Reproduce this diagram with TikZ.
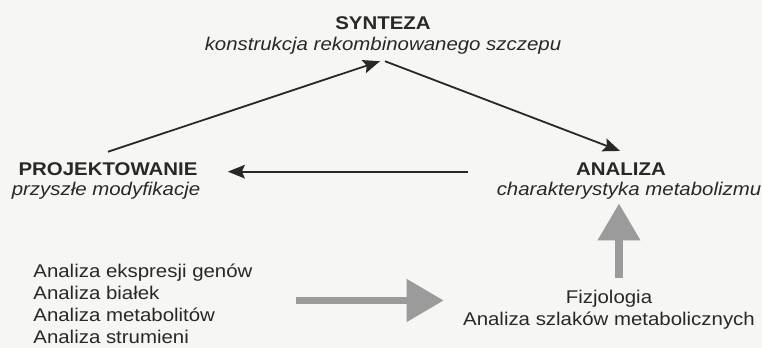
\documentclass[tikz,border=0pt]{standalone}
\usepackage{fontspec}
\setmainfont{Liberation Sans}[FakeStretch=1.11]
\usetikzlibrary{calc,arrows.meta}

\definecolor{inkgray}{RGB}{40,40,40}
\definecolor{flowgray}{RGB}{155,155,155}
\definecolor{paper}{RGB}{246,246,244}

\tikzset{
  title/.style={font=\fontsize{9.2}{10.9}\selectfont\bfseries, text=inkgray, inner sep=0pt, anchor=base},
  subtitle/.style={font=\fontsize{9.2}{10.9}\selectfont\itshape, text=inkgray, inner sep=0pt, anchor=base},
  plain/.style={font=\fontsize{9.2}{10.9}\selectfont, text=inkgray, inner sep=0pt, anchor=base},
  thinarrow/.style={draw=inkgray, line width=0.9pt, -{Stealth[length=8.5pt,width=6.8pt,inset=1.5pt]}},
  bigarrow/.style={draw=flowgray, line width=3.8pt, -{Triangle[length=18.5pt,width=20.5pt]}}
}

\begin{document}
\begin{tikzpicture}[x=0.5pt,y=-0.5pt]

% Page
\fill[paper] (0,0) rectangle (762,348);
\useasboundingbox (0,0) rectangle (762,348);

% Labels
\node[title] (synT) at (383,29) {SYNTEZA};
\node[subtitle] (synS) at (383,50) {konstrukcja rekombinowanego szczepu};
\node[title] (projT) at (108,176) {PROJEKTOWANIE};
\node[subtitle] (projS) at (106,195) {przyszłe modyfikacje};
\node[title] (anaT) at (621,176) {ANALIZA};
\node[subtitle] (anaS) at (629,195) {charakterystyka metabolizmu};
% multi-line nodes: base sits on the last line
\node[plain, align=left, anchor=base west] (omics) at (33,343)
  {Analiza ekspresji genów\\Analiza białek\\Analiza metabolitów\\Analiza strumieni};
\node[plain, align=center] (fizjo) at (609,325)
  {Fizjologia\\Analiza szlaków metabolicznych};

% Cycle arrows
\coordinate (apex) at ($(synS.south)+(0,7)$);
\draw[thinarrow] ($(projT.north)+(0,-11)$) -- ($(apex)+(-3,0)$);
\draw[thinarrow] ($(apex)+(2,0)$) -- ($(anaT.north)+(-1,-12)$);
\draw[thinarrow] ($(anaS.west |- projT.east)+(-28,2)$) -- ($(projT.east)+(30,2)$);

% Grey flow arrows
\draw[bigarrow] ($(fizjo.north)+(10,-11)$) -- ++(0,-75);
\draw[bigarrow] ($(omics.east |- fizjo.north)+(43,11)$) -- ($(fizjo.west |- fizjo.north)+(-19,11)$);

\end{tikzpicture}
\end{document}
